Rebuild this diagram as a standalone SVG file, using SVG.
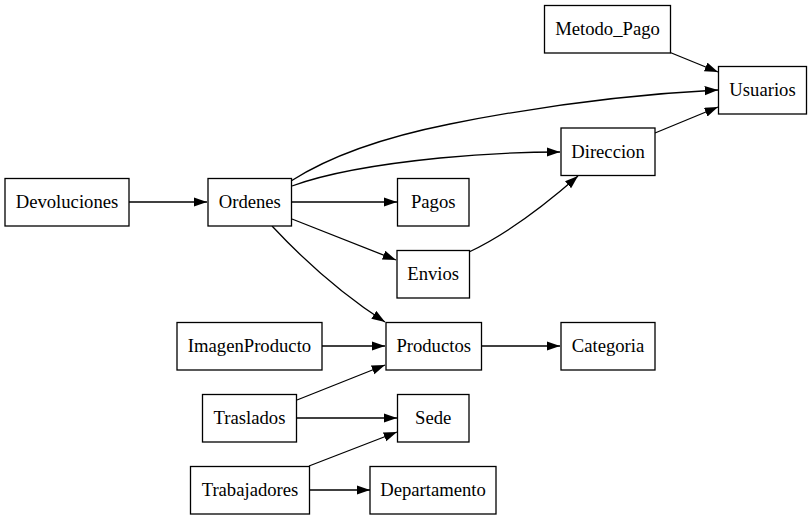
<svg xmlns="http://www.w3.org/2000/svg" width="812" height="520" viewBox="0 0 812 520">
<defs>
<marker id="arr" markerUnits="userSpaceOnUse" markerWidth="14" markerHeight="10" refX="13.3" refY="4.67" orient="auto">
<path d="M0,0 L13.3,4.67 L0,9.33 Z" fill="#000"/>
</marker>
<style>
.n rect{fill:#fff;stroke:#000;stroke-width:1.3}
.n text{font-family:"Liberation Serif","Times New Roman",serif;font-size:18.67px;text-anchor:middle;fill:#000}
#edges path{fill:none;stroke:#000;stroke-width:1.3;marker-end:url(#arr)}
</style>
</defs>
<rect width="812" height="520" fill="#fff"/>
<g id="edges">
<path d="M669,52 L718,72"/>
<path d="M291,181 C330,156 380,138 450,124 C530,108 620,95 718,90"/>
<path d="M292,186 C330,172 380,164 440,158 C480,154 520,152 560,152"/>
<path d="M292,202 L397,202"/>
<path d="M292,219 L396,260"/>
<path d="M272,226 C300,256 340,293 385,322"/>
<path d="M129,202 L207,202"/>
<path d="M469,252 C505,235 545,205 578,176"/>
<path d="M655,133 L718,107"/>
<path d="M322,346 L385,346"/>
<path d="M481,346 L560,346"/>
<path d="M297,400 L385,365"/>
<path d="M297,418 L397,418"/>
<path d="M309,466 L397,432"/>
<path d="M309,490 L370,490"/>
</g>
<g id="Metodo_Pago" class="n"><rect x="544.5" y="5.5" width="126" height="47.5"/><text x="607.5" y="35">Metodo_Pago</text></g>
<g id="Usuarios" class="n"><rect x="718.5" y="66.5" width="88" height="47.5"/><text x="762.5" y="96">Usuarios</text></g>
<g id="Direccion" class="n"><rect x="561" y="128" width="94" height="47.5"/><text x="608" y="158">Direccion</text></g>
<g id="Devoluciones" class="n"><rect x="5" y="178.5" width="124" height="47.5"/><text x="67" y="208">Devoluciones</text></g>
<g id="Ordenes" class="n"><rect x="208" y="178.5" width="83.5" height="47.5"/><text x="249.8" y="208">Ordenes</text></g>
<g id="Pagos" class="n"><rect x="397.5" y="178.5" width="71.5" height="47.5"/><text x="433.2" y="208">Pagos</text></g>
<g id="Envios" class="n"><rect x="397" y="250.5" width="72.5" height="47.5"/><text x="433.2" y="280">Envios</text></g>
<g id="ImagenProducto" class="n"><rect x="177" y="322.5" width="145" height="47.5"/><text x="249.5" y="352">ImagenProducto</text></g>
<g id="Productos" class="n"><rect x="386" y="322.5" width="95.5" height="47.5"/><text x="433.7" y="352">Productos</text></g>
<g id="Categoria" class="n"><rect x="561" y="322.5" width="94" height="47.5"/><text x="608" y="352">Categoria</text></g>
<g id="Traslados" class="n"><rect x="202.5" y="394.5" width="94" height="47.5"/><text x="249.5" y="424">Traslados</text></g>
<g id="Sede" class="n"><rect x="397.5" y="394.5" width="71.5" height="47.5"/><text x="433.2" y="424">Sede</text></g>
<g id="Trabajadores" class="n"><rect x="190.5" y="466.5" width="119" height="47.5"/><text x="250" y="496">Trabajadores</text></g>
<g id="Departamento" class="n"><rect x="370" y="466.5" width="126" height="47.5"/><text x="433" y="496">Departamento</text></g>
</svg>
